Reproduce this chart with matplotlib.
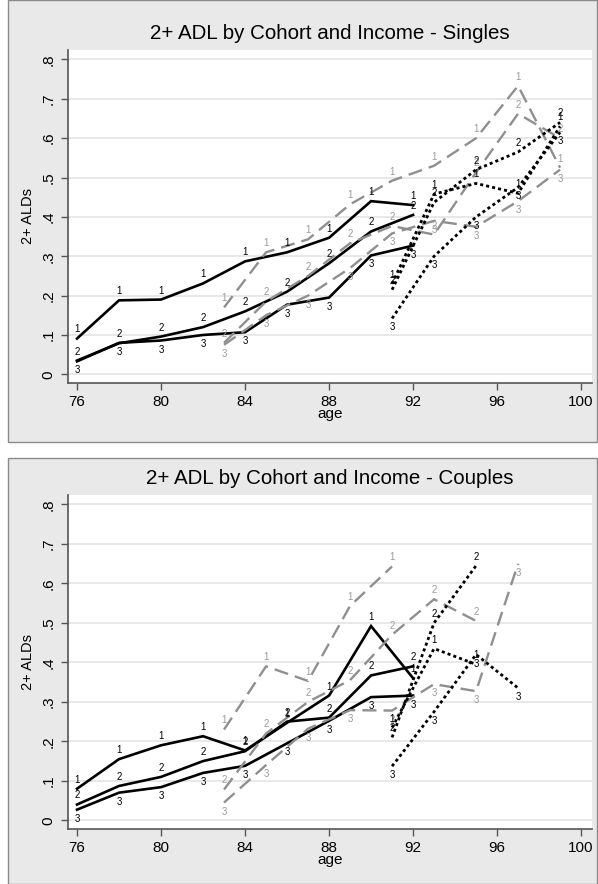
import matplotlib.pyplot as plt
from matplotlib.patches import Rectangle

plt.rcParams['font.family'] = ['Liberation Sans', 'DejaVu Sans']

# ages observed for each cohort
ages_c1 = [76, 78, 80, 82, 84, 86, 88, 90, 92]
ages_c2 = [83, 85, 87, 89, 91, 93, 95, 97, 99]
ages_c3 = [91, 93, 95, 97, 99]

# Singles: share with 2+ ADLs, by cohort and income tercile
s_c1 = {
    1: [0.091, 0.188, 0.19, 0.231, 0.287, 0.31, 0.347, 0.44, 0.43],
    2: [0.035, 0.079, 0.096, 0.12, 0.16, 0.21, 0.282, 0.363, 0.405],
    3: [0.033, 0.08, 0.086, 0.10, 0.107, 0.177, 0.195, 0.302, 0.327],
}
s_c2 = {
    1: [0.17, 0.31, 0.343, 0.432, 0.492, 0.53, 0.60, 0.733, 0.525],
    2: [0.08, 0.185, 0.25, 0.333, 0.377, 0.355, 0.513, 0.662, 0.60],
    3: [0.075, 0.15, 0.20, 0.27, 0.358, 0.39, 0.375, 0.44, 0.52],
}
s_c3 = {
    1: [0.23, 0.458, 0.485, 0.46, 0.63],
    2: [0.215, 0.437, 0.52, 0.565, 0.64],
    3: [0.142, 0.30, 0.40, 0.475, 0.615],
}

# Couples
c_c1 = {
    1: [0.08, 0.155, 0.19, 0.213, 0.177, 0.247, 0.316, 0.492, 0.36],
    2: [0.04, 0.087, 0.11, 0.15, 0.175, 0.25, 0.26, 0.367, 0.39],
    3: [0.027, 0.07, 0.084, 0.12, 0.138, 0.195, 0.252, 0.312, 0.316],
}
c_c2 = {
    1: [0.23, 0.39, 0.353, 0.543, 0.643],
    2: [0.078, 0.22, 0.30, 0.355, 0.47, 0.56, 0.505],
    3: [0.045, 0.14, 0.232, 0.279, 0.278, 0.345, 0.327, 0.65],
}
c_c3 = {
    1: [0.235, 0.435, 0.395],
    2: [0.21, 0.50, 0.645],
    3: [0.137, 0.275, 0.42, 0.335],
}

xticks = [76, 80, 84, 88, 92, 96, 100]
yticks = [0, .1, .2, .3, .4, .5, .6, .7, .8]
ylabels = ['0', '.1', '.2', '.3', '.4', '.5', '.6', '.7', '.8']

W, H = 598, 884
fig = plt.figure(figsize=(W / 100, H / 100), dpi=100)

# grey panel backgrounds (Stata style), behind the axes
for (y0, y1) in [(0, 442), (458, 884)]:
    fig.patches.append(Rectangle((8 / W, 1 - y1 / H), (W - 9) / W, (y1 - y0) / H,
                                 transform=fig.transFigure, facecolor='#e9e9e9',
                                 edgecolor='#8a8a8a', lw=1, zorder=-5))

gray = '#8f8f8f'
styles = {
    1: dict(color='black', ls='-', lw=1.9),
    2: dict(color=gray, ls=(0, (6, 3)), lw=1.7),
    3: dict(color='black', ls=(0, (1.1, 1.1)), lw=2.0),
}


def panel(rect, title, c1, c2, c3):
    ax = fig.add_axes(rect)
    ax.set_facecolor('white')
    for s in ['top', 'right']:
        ax.spines[s].set_visible(False)
    for s in ['left', 'bottom']:
        ax.spines[s].set_color('#555555')
        ax.spines[s].set_linewidth(1.2)
    ax.set_xlim(75.57, 100.52)
    ax.set_ylim(-0.022, 0.824)
    for yt in yticks:
        ax.axhline(yt, color='#e2e2e2', lw=1.1, zorder=0)

    for coh, ages, data in [(1, ages_c1, c1), (2, ages_c2, c2), (3, ages_c3, c3)]:
        st = styles[coh]
        lab_col = '#9a9a9a' if coh == 2 else 'black'
        for inc in [1, 2, 3]:
            vals = data[inc]
            xs = ages[:len(vals)]
            ax.plot(xs, vals, color=st['color'], linestyle=st['ls'], lw=st['lw'],
                    solid_joinstyle='miter', zorder=2)
            dy = -6.5 if inc == 3 else 6.5
            for x, v in zip(xs, vals):
                ax.annotate(str(inc), (x, v), xytext=(0, dy), textcoords='offset points',
                            ha='center', va='center', fontsize=7, color=lab_col, zorder=3)

    ax.set_xticks(xticks)
    ax.set_yticks(yticks)
    ax.set_yticklabels(ylabels, rotation=90, va='center')
    ax.tick_params(axis='both', direction='out', length=5, width=1, color='#555555',
                   labelsize=11)
    ax.tick_params(axis='y', pad=4)
    ax.set_xlabel('age', fontsize=11, labelpad=-1)
    ax.set_ylabel('2+ ALDs', fontsize=10.5, labelpad=5)
    ax.set_title(title, fontsize=14.8, pad=8)
    return ax


panel([68 / W, 1 - 383 / H, 524 / W, 333 / H],
      '2+ ADL by Cohort and Income - Singles', s_c1, s_c2, s_c3)
panel([68 / W, 1 - 829 / H, 524 / W, 334 / H],
      '2+ ADL by Cohort and Income - Couples', c_c1, c_c2, c_c3)

fig.savefig('out.png', dpi=100)
